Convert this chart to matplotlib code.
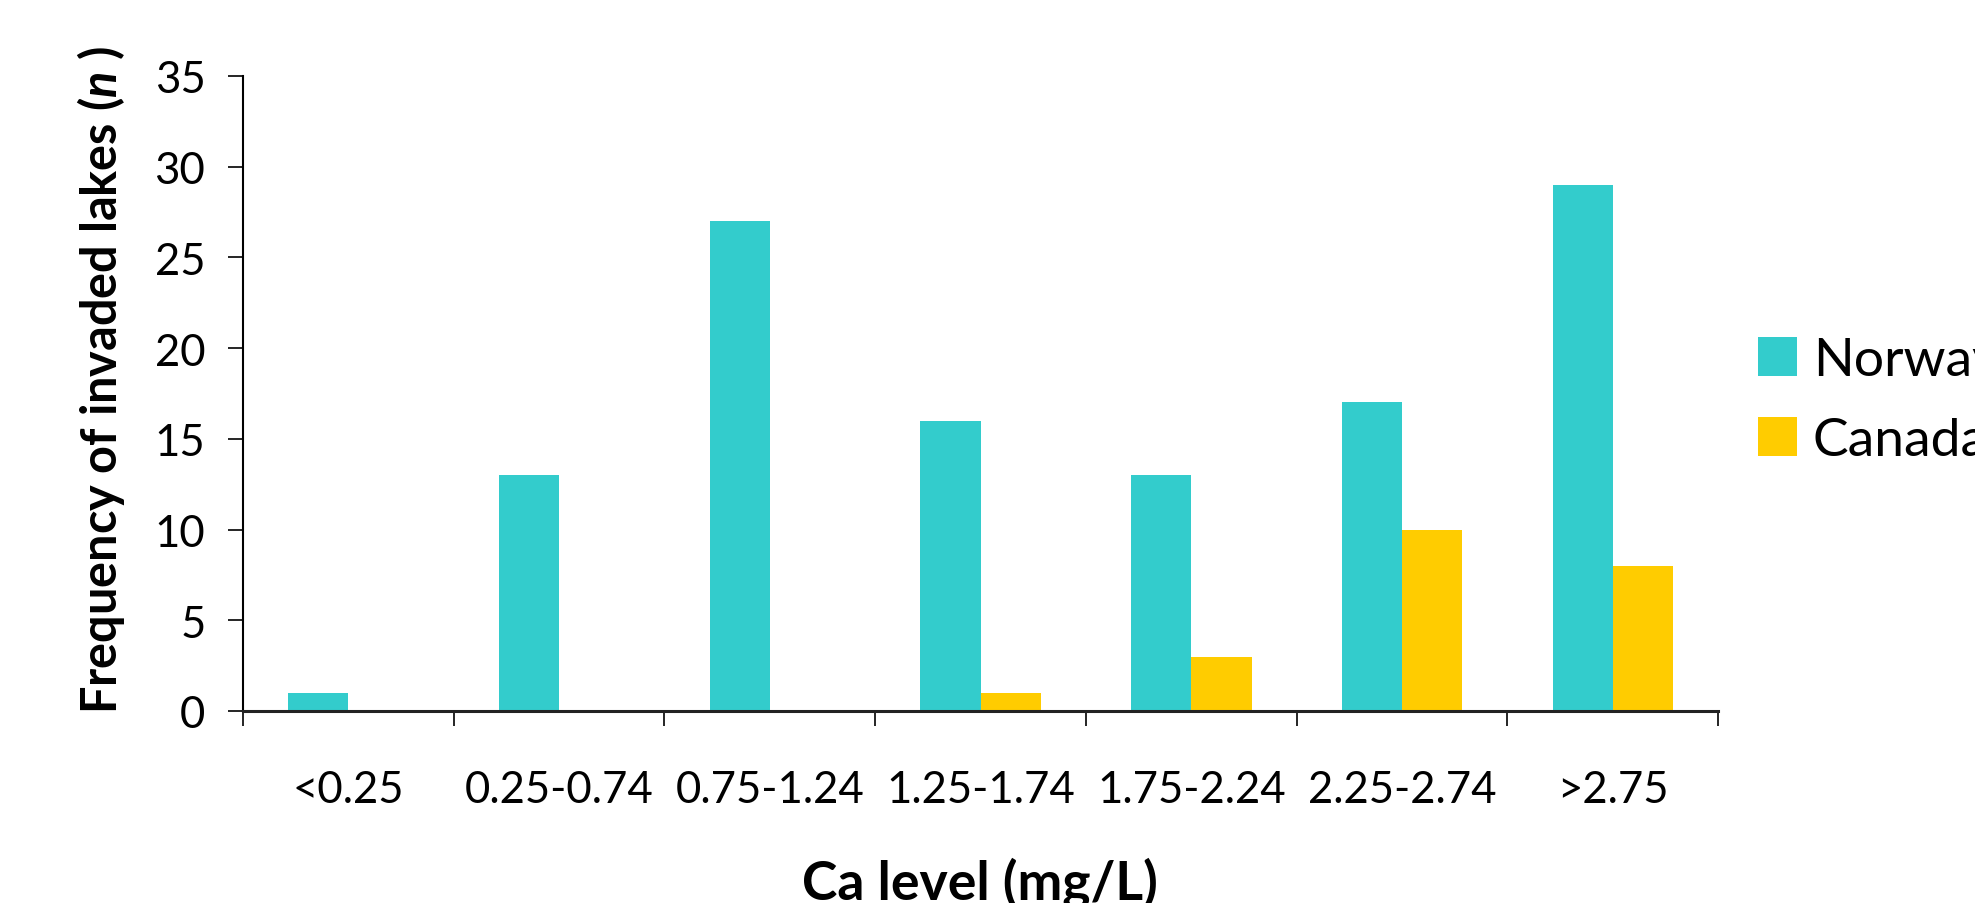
import matplotlib
matplotlib.use("Agg")
import matplotlib.pyplot as plt
import numpy as np

# Daten
categories = ['<0.25', '0.25-0.74', '0.75-1.24', '1.25-1.74', '1.75-2.24', '2.25-2.74', '>2.75']
norway = [1, 13, 27, 16, 13, 17, 29]
canada = [0, 0, 0, 1, 3, 10, 8]
series_names = ['Norway', 'Canada']
y_ticks = [0, 5, 10, 15, 20, 25, 30, 35]

plt.rcParams['font.family'] = ['Lato', 'DejaVu Sans']
plt.rcParams['mathtext.fontset'] = 'custom'
plt.rcParams['mathtext.it'] = 'Lato:bold:italic'
plt.rcParams['mathtext.rm'] = 'Lato:bold'

fig = plt.figure(figsize=(19.75, 9.04), dpi=100)
ax = fig.add_axes([0.123, 0.2124, 0.747, 0.7026])

x = np.arange(len(categories))
w = 1 / 3.5
ax.bar(x - w / 2, norway, width=w, color='#33CCCC', label=series_names[0])
ax.bar(x + w / 2, canada, width=w, color='#FFCC00', label=series_names[1])

ax.set_xlim(-0.5, len(categories) - 0.5)
ax.set_ylim(0, 35)
ax.set_yticks(y_ticks)
ax.set_xticks(x)
ax.set_xticklabels(categories)
ax.set_xticks(np.arange(len(categories) + 1) - 0.5, minor=True)

for s in ['top', 'right']:
    ax.spines[s].set_visible(False)
ax.spines['left'].set_linewidth(1.5)
ax.spines['bottom'].set_linewidth(2.2)
ax.spines['bottom'].set_color('#222222')

ax.tick_params(axis='x', which='major', length=0, pad=42, labelsize=31.5)
ax.tick_params(axis='x', which='minor', length=11, width=1.2, direction='out')
ax.tick_params(axis='y', length=11, width=1.2, direction='out', pad=16, labelsize=31.5)

fig.text(101 / 1975, 1 - 380 / 904, 'Frequency of invaded lakes ($n$ )', rotation=90,
         ha='center', va='center', fontsize=35, fontweight='bold')
fig.text(980 / 1975, 4 / 904, 'Ca level (mg/L)', ha='center', va='baseline',
         fontsize=38.5, fontweight='bold')

ax.legend(loc='upper left', bbox_to_anchor=(0.890, 0.626), bbox_transform=fig.transFigure,
          frameon=False, fontsize=38.5, handlelength=0.73, handleheight=0.73,
          handletextpad=0.30, labelspacing=0.62, borderpad=0, borderaxespad=0)

fig.savefig('out.png', dpi=100)
